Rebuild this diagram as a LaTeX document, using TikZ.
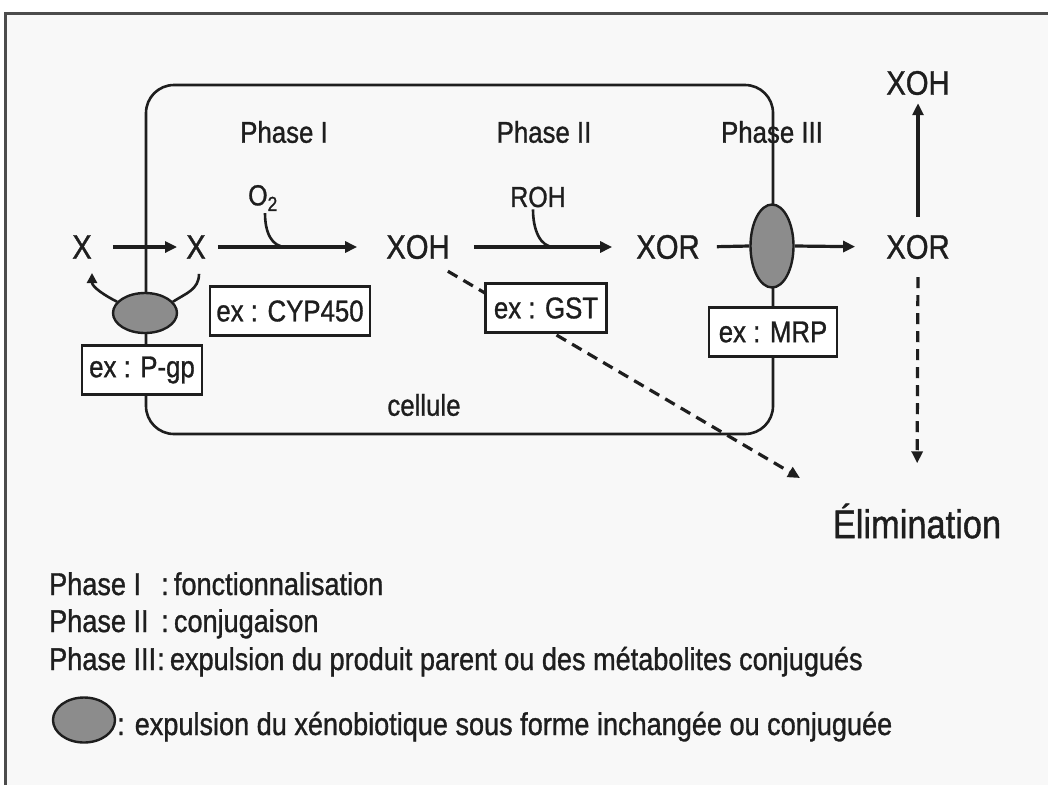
\documentclass[tikz,border=0pt]{standalone}
\usepackage{fontspec}
\setmainfont[FakeStretch=0.86,FakeBold=1.0]{Liberation Sans}
\usetikzlibrary{arrows.meta,shapes.geometric,positioning}
\definecolor{bggray}{RGB}{248,248,248}
\definecolor{pumpgray}{RGB}{140,140,140}
\definecolor{inkgray}{RGB}{30,30,30}
\begin{document}
\begin{tikzpicture}[x=1pt,y=-1pt,
  every node/.style={text=inkgray,inner sep=2pt},
  mol/.style={font=\fontsize{34}{34}\selectfont},
  lab/.style={font=\fontsize{30}{30}\selectfont},
  legtext/.style={font=\fontsize{31.5}{31.5}\selectfont,anchor=base west,inner sep=0pt},
  exbox/.style={draw=inkgray,line width=2.2pt,fill=white,
    font=\fontsize{30}{30}\selectfont,minimum height=49pt,inner xsep=5pt},
  pump/.style={ellipse,draw=inkgray,line width=2.4pt,fill=pumpgray,inner sep=0pt},
  flow/.style={line width=3.2pt,draw=inkgray,-{Triangle[length=12pt,width=11pt]}},
  loss/.style={flow,dash pattern=on 11pt off 7pt},
  hook/.style={line width=2.6pt,draw=inkgray}]
  \useasboundingbox (0,0) rectangle (1048,785);
  \fill[white] (0,0) rectangle (1048,785);
  \fill[bggray] (5,13) rectangle (1048,785);
  \draw[line width=3pt,draw=black!70] (5,785) -- (5,13) -- (1048,13);
  \draw[line width=2.6pt,draw=inkgray,rounded corners=28pt] (146,85) rectangle (773,434);

  \node[lab] (ph1) at (284,132) {Phase I};
  \node[lab] (ph2) at (544,132) {Phase II};
  \node[lab] (ph3) at (772,132) {Phase III};
  \node[lab] (cell) at (424,405) {cellule};

  \node[mol] (xout) at (82,247) {X};
  \node[mol] (xin) at (196,247) {X};
  \node[mol] (xoh) at (418,247) {XOH};
  \node[mol] (xor) at (668,247) {XOR};
  \node[mol] (xorout) at (918,247) {XOR};
  \node[mol] (xohout) at (918,83) {XOH};
  \node[font=\fontsize{40}{40}\selectfont] (elim) at (917,521) {Élimination};
  \node[lab,font=\fontsize{29}{29}\selectfont] (otwo) at (263,198) {O\textsubscript{2}};
  \node[lab,font=\fontsize{29}{29}\selectfont] (roh) at (538,197) {ROH};
  \coordinate (otwojoin) at (286,247);
  \coordinate (rohjoin) at (554,247);
  \coordinate (elimtip) at (800,478);
  \coordinate (backtip) at (92,273);

  \draw[loss] ([shift={(-4,10)}]xoh.south east) -- (elimtip);

  \node[exbox,minimum width=120pt] (pgp) at (142,370) {ex : P-gp};
  \node[exbox,minimum width=160pt] (cyp) at (290,311) {ex : CYP450};
  \node[exbox,minimum width=121pt] (gst) at (546,308) {ex : GST};
  \node[exbox,minimum width=128pt] (mrp) at (773,332) {ex : MRP};
  \node[pump,minimum width=64pt,minimum height=40pt] (pgpump) at (145,313) {};
  \node[pump,minimum width=43pt,minimum height=83pt] (mrpump) at (772,246) {};

  \draw[flow,shorten <=19pt,shorten >=7pt] (xout) -- (xin);
  \draw[flow,shorten <=10pt,shorten >=27pt] (xin) -- (xoh);
  \draw[flow,shorten <=22pt,shorten >=22pt] (xoh) -- (xor);
  \draw[hook,line width=3.2pt,shorten <=15pt] (xor.east) -- (mrpump.west);
  \draw[flow,shorten >=29pt] (mrpump.east) -- (xorout.west);
  \draw[flow,shorten <=16pt,shorten >=6pt] (xorout.north) -- (xohout.south);
  \draw[loss,shorten <=16pt,shorten >=38pt] (xorout.south) -- (elim.north);
  \draw[hook] ([xshift=2pt]otwo.south) .. controls +(0,20) and +(-14,0) .. (otwojoin);
  \draw[hook] ([xshift=-5pt]roh.south) .. controls +(0,20) and +(-14,0) .. (rohjoin);
  \draw[hook] ([shift={(3,13)}]xin.south) .. controls +(0,16) and +(12,-8) .. (pgpump.22);
  \draw[hook,-{Triangle[length=10pt,width=10pt]}] (pgpump.158) .. controls +(-12,-6) and +(0,14) .. (backtip);

  \node[legtext] (leg1) at (49,595) {Phase I};
  \node[legtext] (leg2) at (49,632) {Phase II};
  \node[legtext] (leg3) at (49,670) {Phase III};
  \node[legtext] (def1) at (161,595) {:\,fonctionnalisation};
  \node[legtext] (def2) at (161,632) {:\,conjugaison};
  \node[legtext] (def3) at (157,670) {:\,expulsion du produit parent ou des métabolites conjugués};
  \node[pump,minimum width=62pt,minimum height=45pt] (legpump) at (84,720) {};
  \node[legtext] (def4) at (117,735) {: expulsion du xénobiotique sous forme inchangée ou conjuguée};
\end{tikzpicture}
\end{document}
